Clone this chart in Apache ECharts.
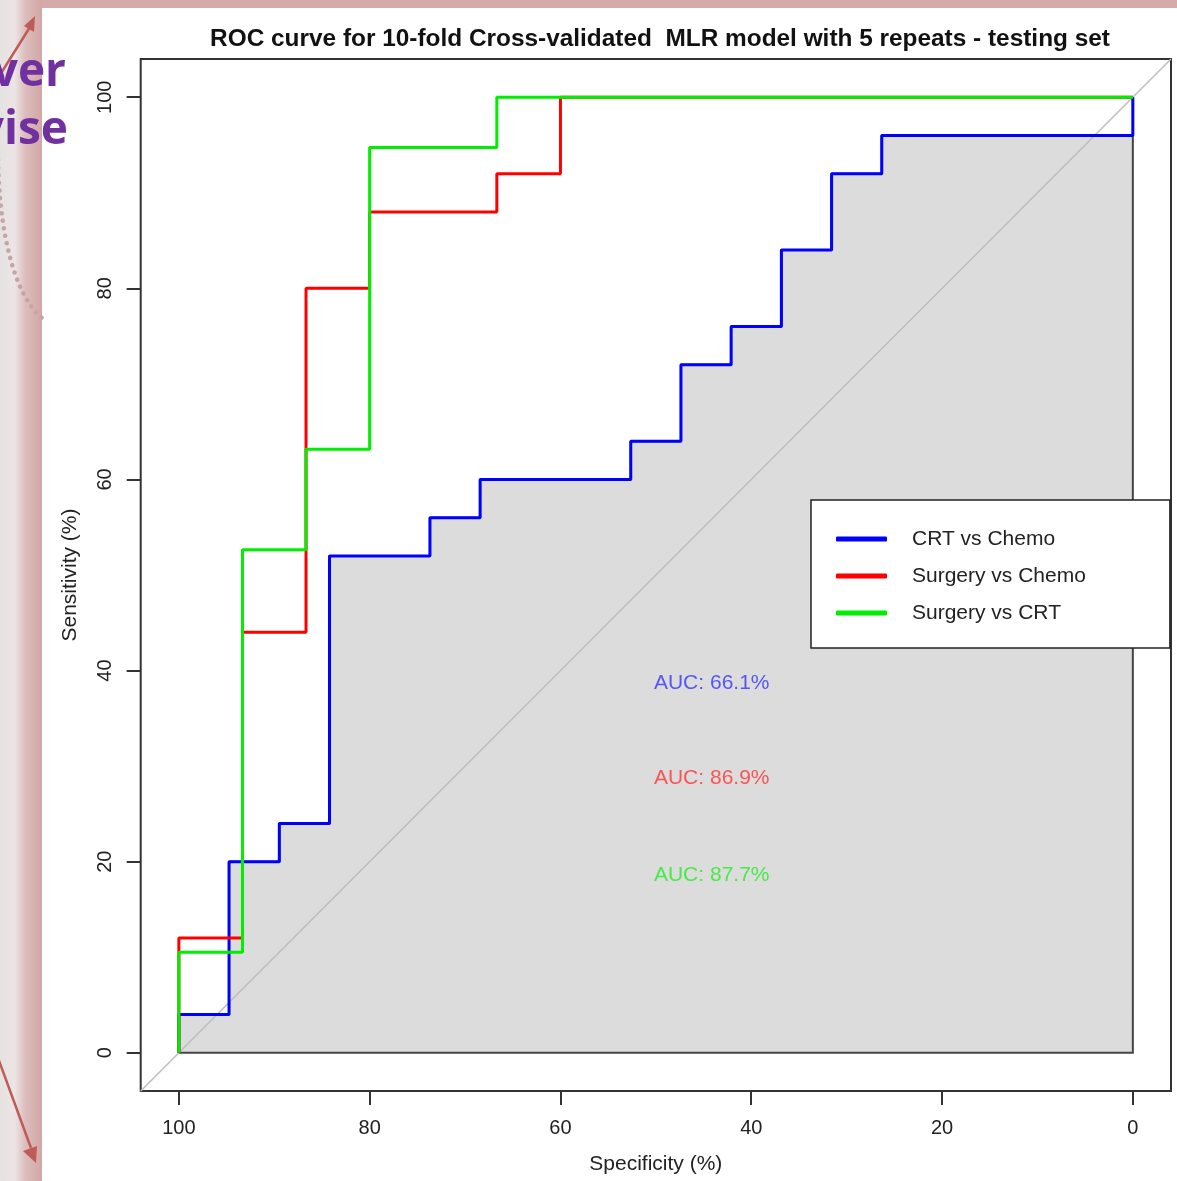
<!DOCTYPE html>
<html>
<head>
<meta charset="utf-8">
<script src="https://cdn.jsdelivr.net/npm/echarts@6/dist/echarts.min.js"></script>
<style>
html,body{margin:0;padding:0;background:#fff;}
#chart{width:1177px;height:1181px;}
</style>
</head>
<body>
<div id="chart"></div>
<script>
// ---- Data (specificity %, sensitivity %) ----
const seriesNames = ['CRT vs Chemo', 'Surgery vs Chemo', 'Surgery vs CRT'];
const crtVsChemo = [
  [100,0],[100,4],[94.74,4],[94.74,20],[89.47,20],[89.47,24],[84.21,24],[84.21,52],
  [73.68,52],[73.68,56],[68.42,56],[68.42,60],[52.63,60],[52.63,64],[47.37,64],[47.37,72],
  [42.11,72],[42.11,76],[36.84,76],[36.84,84],[31.58,84],[31.58,92],[26.32,92],[26.32,96],
  [0,96],[0,100]
];
const surgeryVsChemo = [
  [100,0],[100,12],[93.33,12],[93.33,44],[86.67,44],[86.67,80],[80,80],[80,88],
  [66.67,88],[66.67,92],[60,92],[60,100],[0,100]
];
const surgeryVsCrt = [
  [100,0],[100,10.53],[93.33,10.53],[93.33,52.63],[86.67,52.63],[86.67,63.16],[80,63.16],
  [80,94.74],[66.67,94.74],[66.67,100],[0,100]
];
const aucValues = [66.1, 86.9, 87.7];
const tickValues = [0, 20, 40, 60, 80, 100];
const chanceLine = [[104,-4],[-4,104]];

const colors = ['#0000ff', '#ff0000', '#00ee00'];
const aucTextColors = ['#3333ff', '#ff3333', '#22ee22'];
const aucAnchorSpec = 50.2;
const aucAnchorSens = [38.7, 28.7, 18.6];

const chart = echarts.init(document.getElementById('chart'));
const font = '"Liberation Sans", Arial, sans-serif';
const txt = '#222';

const polygonPts = crtVsChemo.concat([[0,0]]);

const option = {
  animation: false,
  backgroundColor: '#ffffff',
  title: {
    text: 'ROC curve for 10-fold Cross-validated  MLR model with 5 repeats - testing set',
    left: 655, top: 22, textAlign: 'center',
    textStyle: {fontFamily: font, fontWeight: 'bold', fontSize: 24.4, color: '#111'}
  },
  grid: {
    left: 140.7, top: 59, right: 6, bottom: 90,
    show: true, borderColor: '#333', borderWidth: 2, backgroundColor: 'transparent'
  },
  xAxis: {
    type: 'value', min: -4, max: 104, inverse: true,
    name: 'Specificity (%)', nameLocation: 'middle', nameGap: 63,
    nameTextStyle: {fontFamily: font, fontSize: 21, color: txt},
    axisLine: {show: false, onZero: false},
    splitLine: {show: false},
    axisTick: {show: true, length: 14, customValues: tickValues, lineStyle: {color: '#333', width: 2}},
    axisLabel: {show: true, customValues: tickValues, margin: 27, fontFamily: font, fontSize: 20, color: txt}
  },
  yAxis: {
    type: 'value', min: -4, max: 104,
    name: 'Sensitivity (%)', nameLocation: 'middle', nameGap: 60,
    nameTextStyle: {fontFamily: font, fontSize: 21, color: txt},
    axisLine: {show: false, onZero: false},
    splitLine: {show: false},
    axisTick: {show: true, length: 14, customValues: tickValues, lineStyle: {color: '#333', width: 2}},
    axisLabel: {show: true, customValues: tickValues, rotate: 90, margin: 25, fontFamily: font, fontSize: 20, color: txt}
  },
  legend: {
    orient: 'vertical', left: 811, top: 500,
    data: seriesNames,
    icon: 'roundRect', itemWidth: 51, itemHeight: 5, itemGap: 15,
    padding: [28, 84, 24, 25],
    backgroundColor: '#ffffff', borderColor: '#222', borderWidth: 1.5, borderRadius: 0,
    textStyle: {fontFamily: font, fontSize: 21, color: txt, lineHeight: 22, padding: [0,0,0,20]},
    selectedMode: false
  },
  graphic: [
    {type: 'rect', silent: true, z: -10, shape: {x: 0, y: 0, width: 1177, height: 8}, style: {fill: '#d5aaaa'}},
    {type: 'rect', silent: true, z: -10, shape: {x: 0, y: 0, width: 42, height: 1181},
      style: {fill: new echarts.graphic.LinearGradient(0, 0, 1, 0, [
        {offset: 0, color: '#e6e2e2'}, {offset: 0.35, color: '#ece5e5'},
        {offset: 0.6, color: '#dcbdbd'}, {offset: 1, color: '#d3a6a6'}])}},
    {type: 'bezierCurve', silent: true, z: -5,
      shape: {x1: -2, y1: 160, x2: 42, y2: 318, cpx1: 0, cpy1: 250, cpx2: 20, cpy2: 300},
      style: {stroke: '#c7a5a5', lineWidth: 4.5, lineCap: 'round', lineDash: [0.1, 7.5], fill: null}},
    {type: 'line', silent: true, z: -5, shape: {x1: -2, y1: 78, x2: 30, y2: 27}, style: {stroke: '#bf5c55', lineWidth: 2.5}},
    {type: 'polygon', silent: true, z: -5, shape: {points: [[35, 16], [24, 26], [34, 32]]}, style: {fill: '#bf5c55'}},
    {type: 'line', silent: true, z: -5, shape: {x1: -2, y1: 1058, x2: 31, y2: 1148}, style: {stroke: '#bf5c55', lineWidth: 2.5}},
    {type: 'polygon', silent: true, z: -5, shape: {points: [[36, 1163], [23, 1151], [37, 1146]]}, style: {fill: '#bf5c55'}},
    {type: 'text', silent: true, z: 5, style: {x: 66, y: 73, text: 'ver', textAlign: 'right', textVerticalAlign: 'middle',
      font: 'bold 46px "Open Sans", sans-serif', fill: '#7030a0'}},
    {type: 'text', silent: true, z: 5, style: {x: 68, y: 131, text: 'vise', textAlign: 'right', textVerticalAlign: 'middle',
      font: 'bold 46px "Open Sans", sans-serif', fill: '#7030a0'}}
  ],
  series: [
    {
      type: 'custom', name: 'AUC area', silent: true, z: 1,
      data: polygonPts,
      renderItem: function (params, api) {
        if (params.dataIndex !== 0) return null;
        const pts = polygonPts.map(p => api.coord(p));
        return {type: 'polygon', shape: {points: pts},
          style: {fill: '#dcdcdc', stroke: '#444', lineWidth: 2}};
      }
    },
    {
      type: 'line', name: 'chance', data: chanceLine, symbol: 'none', silent: true, z: 2,
      lineStyle: {color: '#bdbdbd', width: 1.5}
    },
    {type: 'line', name: seriesNames[0], data: crtVsChemo, symbol: 'none', silent: true, z: 3,
      color: colors[0], lineStyle: {color: colors[0], width: 3}},
    {type: 'line', name: seriesNames[1], data: surgeryVsChemo, symbol: 'none', silent: true, z: 3,
      color: colors[1], lineStyle: {color: colors[1], width: 3}},
    {type: 'line', name: seriesNames[2], data: surgeryVsCrt, symbol: 'none', silent: true, z: 3,
      color: colors[2], lineStyle: {color: colors[2], width: 3}},
    {
      type: 'scatter', name: 'AUC labels', silent: true, z: 4, symbolSize: 0,
      data: aucValues.map((v, i) => ({
        value: [aucAnchorSpec, aucAnchorSens[i]],
        label: {show: true, position: 'right', distance: 0, formatter: 'AUC: ' + v.toFixed(1) + '%',
          fontFamily: font, fontSize: 21, color: aucTextColors[i], align: 'left', verticalAlign: 'middle'}
      }))
    }
  ]
};
chart.setOption(option);
</script>
</body>
</html>
